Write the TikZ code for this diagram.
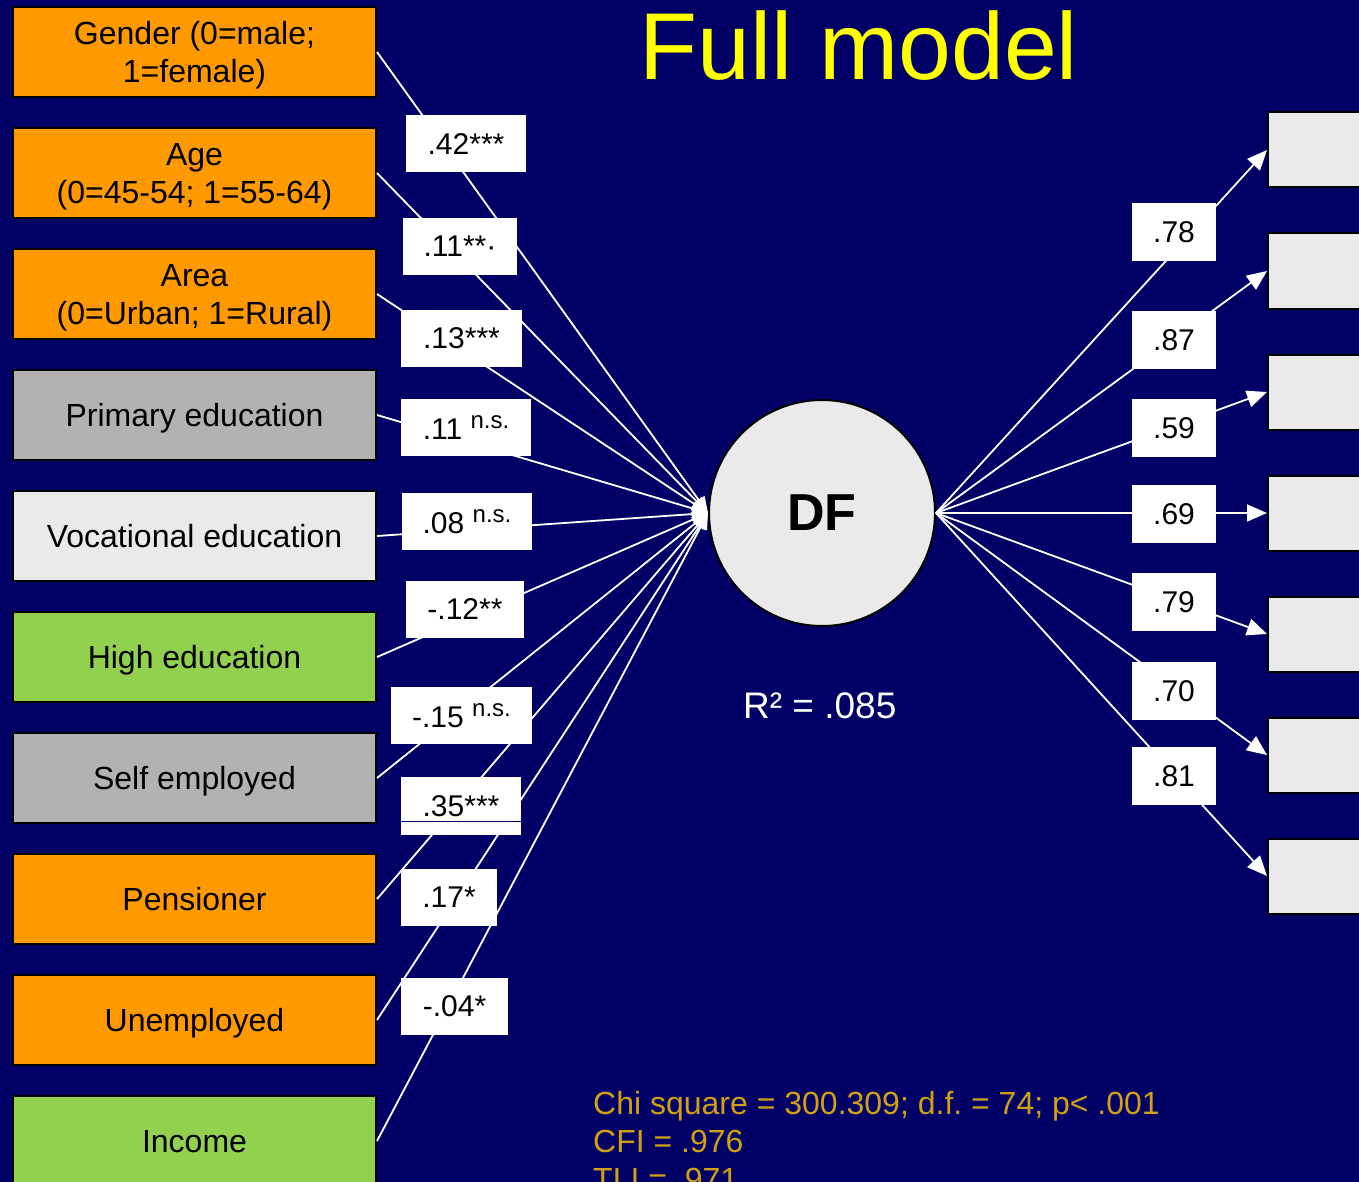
\documentclass[tikz,border=0pt]{standalone}
\usepackage{fontspec}
\setmainfont{Liberation Sans}
\usetikzlibrary{arrows.meta}
\definecolor{bg}{RGB}{0,0,102}
\definecolor{orangebox}{RGB}{255,153,0}
\definecolor{graybox}{RGB}{178,178,178}
\definecolor{lightbox}{RGB}{234,234,234}
\definecolor{greenbox}{RGB}{146,208,80}
\definecolor{statcol}{RGB}{210,160,20}
\definecolor{titlecol}{RGB}{255,255,0}
\newcommand{\ns}{\raisebox{11pt}{\fontsize{24}{24}\selectfont n.s.}}
\frenchspacing
\begin{document}
\begin{tikzpicture}[x=1pt,y=-1pt,
  lbox/.style={draw=black,line width=2pt,minimum width=363pt,minimum height=90pt,inner sep=0pt,align=center,text=black,text depth=0pt,font=\fontsize{32}{38}\selectfont},
  rbox/.style={draw=black,line width=2pt,fill=lightbox,minimum width=112pt,minimum height=75pt,inner sep=0pt},
  coef/.style={fill=white,inner sep=0pt,minimum height=57pt,text=black,font=\fontsize{30}{30}\selectfont},
  rcoef/.style={coef,minimum width=84pt,minimum height=58pt},
  inarrow/.style={white,line width=1.8pt,-{Triangle[length=16pt,width=14pt]}},
  outarrow/.style={white,line width=1.8pt,-{Triangle[length=20pt,width=17pt]}},
  stat/.style={anchor=base west,inner sep=0pt,text=statcol,font=\fontsize{32}{32}\selectfont}
]
\useasboundingbox (0,0) rectangle (1359,1182);
\clip (0,0) rectangle (1359,1182);
\fill[bg] (0,0) rectangle (1359,1182);

% title
\node[anchor=base,inner sep=0pt,text=titlecol,font=\fontsize{95}{95}\selectfont] (title) at (859,80) {Full model};

% left boxes
\node[lbox,fill=orangebox] (b1) at (194.5,52) {Gender (0=male;\\1=female)};
\node[lbox,fill=orangebox] (b2) at (194.5,173) {Age\\(0=45-54; 1=55-64)};
\node[lbox,fill=orangebox] (b3) at (194.5,294) {Area\\(0=Urban; 1=Rural)};
\node[lbox,fill=graybox] (b4) at (194.5,415) {Primary education};
\node[lbox,fill=lightbox] (b5) at (194.5,536) {Vocational education};
\node[lbox,fill=greenbox] (b6) at (194.5,657) {High education};
\node[lbox,fill=graybox] (b7) at (194.5,778) {Self employed};
\node[lbox,fill=orangebox] (b8) at (194.5,899) {Pensioner};
\node[lbox,fill=orangebox] (b9) at (194.5,1020) {Unemployed};
\node[lbox,fill=greenbox] (b10) at (194.5,1141) {Income};

% central factor
\node[circle,draw=black,line width=2pt,fill=lightbox,minimum size=226pt,inner sep=0pt,text=black,font=\fontsize{52}{52}\selectfont\bfseries] (DF) at (822,513) {DF};

% right boxes
\node[rbox] (r1) at (1324,150) {};
\node[rbox] (r2) at (1324,271) {};
\node[rbox] (r3) at (1324,392) {};
\node[rbox] (r4) at (1324,513) {};
\node[rbox] (r5) at (1324,634) {};
\node[rbox] (r6) at (1324,755) {};
\node[rbox] (r7) at (1324,876) {};

% left paths
\foreach \i in {1,...,10}{
  \draw[inarrow] (b\i.east) -- (DF.west);
}
% right paths
\foreach \i in {1,...,7}{
  \draw[outarrow] (DF.east) -- (r\i.west);
}

% left coefficients
\node[coef,minimum width=120pt] (c1) at (466,144) {.42***};
\node[coef,minimum width=114pt] (c2) at (460,246.5) {.11**·};
\node[coef,minimum width=121pt] (c3) at (461.5,338) {.13***};
\node[coef,minimum width=130pt] (c4) at (466,427.5) {.11 \ns};
\node[coef,minimum width=130pt] (c5) at (467,521.5) {.08 \ns};
\node[coef,minimum width=118pt] (c6) at (465,609.5) {-.12**};
\node[coef,minimum width=141pt] (c7) at (461.5,715.5) {-.15 \ns};
\node[coef,minimum width=120pt,minimum height=58pt] (c8) at (461,806) {.35***};
\draw[bg,line width=1pt] (c8.west |- 0,821) -- (c8.east |- 0,821);
\node[coef,minimum width=96pt] (c9) at (449,897) {.17*};
\node[coef,minimum width=107pt] (c10) at (454.5,1006) {-.04*};

% right coefficients
\node[rcoef] (d1) at (1174,232) {.78};
\node[rcoef] (d2) at (1174,340) {.87};
\node[rcoef] (d3) at (1174,428) {.59};
\node[rcoef] (d4) at (1174,514) {.69};
\node[rcoef] (d5) at (1174,602) {.79};
\node[rcoef] (d6) at (1174,691) {.70};
\node[rcoef] (d7) at (1174,776) {.81};

% R squared
\node[anchor=base west,inner sep=0pt,text=white,font=\fontsize{37}{37}\selectfont] (rsq) at (743,718) {R² = .085};

% fit statistics
\node[stat] (s1) at (593,1114) {Chi square = 300.309; d.f. = 74; p< .001};
\node[stat] (s2) at (593,1152) {CFI = .976};
\node[stat] (s3) at (593,1190) {TLI = .971};
\end{tikzpicture}
\end{document}
